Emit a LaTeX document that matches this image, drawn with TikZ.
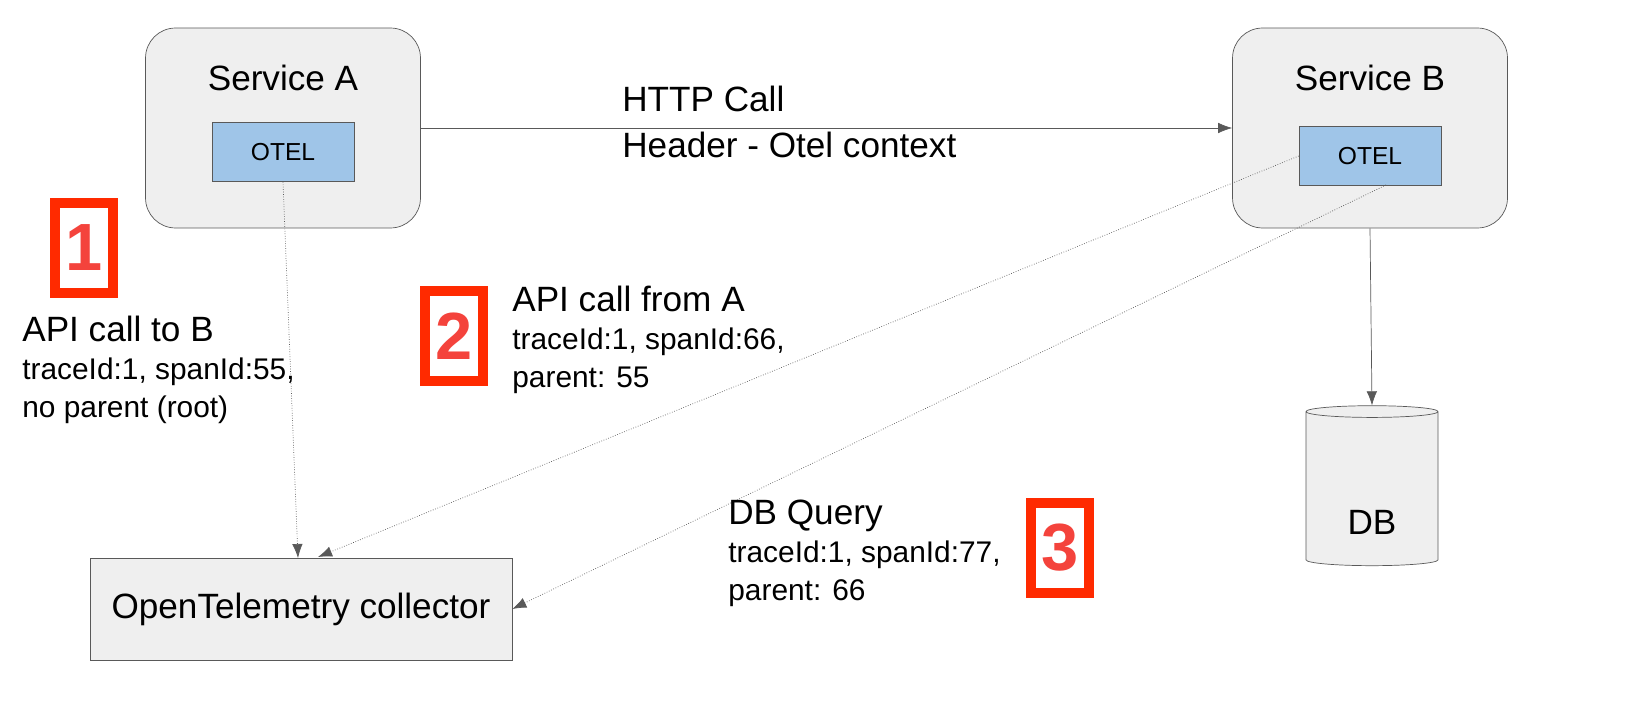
\documentclass[tikz,border=0pt]{standalone}
\usepackage{fontspec}
\setmainfont{Liberation Sans}
\usetikzlibrary{arrows.meta}
\usetikzlibrary{shapes.geometric}
\definecolor{boxgray}{HTML}{EFEFEF}
\definecolor{linegray}{HTML}{595959}
\definecolor{otelblue}{HTML}{9FC5E8}
\definecolor{markred}{HTML}{FF2A00}
\definecolor{digitred}{HTML}{F4433C}
\tikzset{
	service/.style = {draw=linegray, fill=boxgray, rounded corners=0.6cm, minimum width=5.5cm, minimum height=4cm},
	otel/.style = {draw=linegray, fill=otelblue, minimum width=2.84cm, minimum height=1.18cm, font=\fontsize{14}{16}\selectfont},
	numbox/.style = {draw=markred, line width=5.5pt, minimum width=1.15cm, minimum height=1.8cm, text=digitred, font=\fontsize{38}{42}\selectfont\bfseries},
	note/.style = {anchor=north west, align=left, inner sep=0pt, font=\fontsize{17}{21.5}\selectfont},
	conn/.style = {linegray, -{Latex[length=8pt, width=6pt]}},
	trace/.style = {linegray, densely dotted, -{Latex[length=8pt, width=6pt]}}
}
\begin{document}
\begin{tikzpicture}[x=0.02cm, y=-0.02cm]
	\useasboundingbox (0, 0) rectangle (1646, 726);
	
	\node[service] (svcA) at (283, 128) {};
	\node[font=\fontsize{20}{24}\selectfont] (svcAname) at (283, 78) {Service A};
	\node[otel] (otelA) at (283, 152) {OTEL};
	
	\node[service] (svcB) at (1370, 128) {};
	\node[font=\fontsize{20}{24}\selectfont] (svcBname) at (1370, 78) {Service B};
	\node[otel] (otelB) at (1370, 156) {OTEL};
	
	\node[draw=linegray, fill=boxgray, minimum width=8.44cm, minimum height=2.04cm, font=\fontsize{20}{24}\selectfont] (collector) at (301, 609) {OpenTelemetry collector};
	
	\node[cylinder, shape border rotate=90, aspect=1.0, draw=linegray, fill=boxgray, minimum width=2.64cm, minimum height=3.2cm, font=\fontsize{20}{24}\selectfont] (db) at (1372, 490) {};
	\node[font=\fontsize{20}{24}\selectfont] (dbname) at (1372, 522) {DB};
	
	% connectors
	\draw[conn] (svcA.east |- 0, 128) coordinate (httpA) -- (svcB.west |- 0, 128);
	\node[anchor=north west, align=left, inner sep=0pt, font=\fontsize{20}{26}\selectfont] (http) at (622, 86) {HTTP Call\\Header - Otel context};
	\draw[conn] (svcB.south) -- (db.top);
	
	\draw[trace] (otelA.south) -- (298, 558) coordinate (colA);
	\draw[trace] (otelB.west |- 0, 156) -- (318, 557) coordinate (colB);
	\draw[trace] (1386, 185) coordinate (otelBs) -- (collector.east);
	
	% numbered notes
	\node[numbox] (m1) at (84, 248) {1};
	\node[note] (l1) at (22, 316) {{\fontsize{20}{26}\selectfont API call to B}\\traceId:1, spanId:55,\\no parent (root)};
	
	\node[numbox] (m2) at (454, 336) {2};
	\node[note] (l2) at (512, 286) {{\fontsize{20}{26}\selectfont API call from A}\\traceId:1, spanId:66,\\parent: 55};
	
	\node[numbox] (m3) at (1060, 548) {3};
	\node[note] (l3) at (728, 500) {{\fontsize{20}{26}\selectfont DB Query}\\traceId:1, spanId:77,\\parent: 66};
\end{tikzpicture}
\end{document}
